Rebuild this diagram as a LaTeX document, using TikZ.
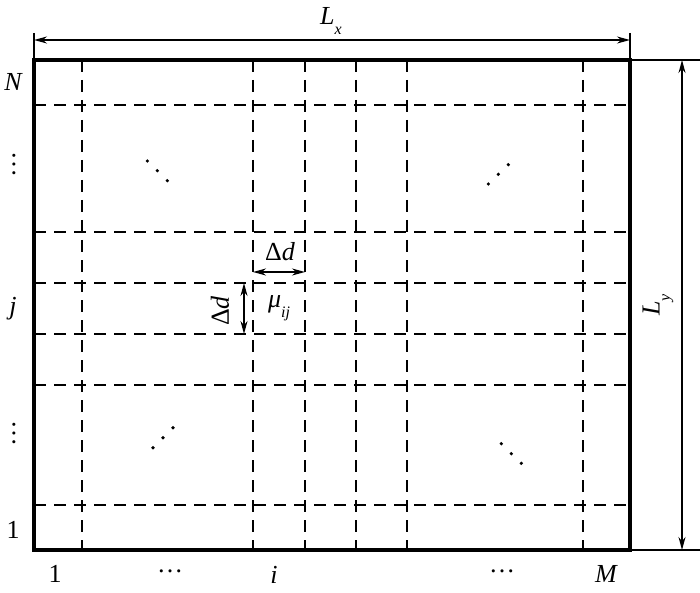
\documentclass[tikz,border=0pt]{standalone}
\usepackage{fontspec}
\setmainfont{Liberation Serif}
\usetikzlibrary{arrows.meta}
\newcommand\mysubs[1]{\raisebox{-0.4em}{\fontsize{16}{16}\selectfont\itshape #1}}
\begin{document}
\begin{tikzpicture}[x=1pt,y=-1pt,
  frame/.style={line width=4pt},
  gridline/.style={line width=1.1pt,dash pattern=on 12pt off 8pt},
  dim/.style={line width=1.5pt,{Stealth[length=13pt,width=7pt]}-{Stealth[length=13pt,width=7pt]}},
  ext/.style={line width=1.2pt},
  lab/.style={font=\fontsize{26}{28}\selectfont, inner sep=0pt},
  dotc/.style={fill=black, circle, inner sep=0pt, minimum size=3.6pt}]
\useasboundingbox (0,0) rectangle (700,593);
\coordinate (tl) at (34,60);
\coordinate (br) at (630,550);
% grid
\foreach \x in {82,253,305,356,407,583} \draw[gridline] (\x,60) -- (\x,550);
\foreach \y in {105,232,283,334,385,505} \draw[gridline] (34,\y) -- (630,\y);
\draw[frame] (tl) rectangle (br);
% Lx dimension
\coordinate (lxt1) at (34,33);
\coordinate (lxt2) at (630,33);
\coordinate (lxb1) at (34,60);
\coordinate (lxb2) at (630,60);
\draw[ext] (lxt1) -- (lxb1);
\draw[ext] (lxt2) -- (lxb2);
\coordinate (lxa) at (34,40);
\coordinate (lxb) at (630,40);
\draw[dim] (lxa) -- (lxb);
\node[lab] (Lx) at (331,21) {\itshape L\mysubs{x}};
% Ly dimension
\coordinate (lye1) at (700,60);
\coordinate (lye2) at (700,550);
\draw[ext] (lxb2) -- (lye1);
\draw[ext] (br) -- (lye2);
\coordinate (lya) at (682,60);
\coordinate (lyb) at (682,550);
\draw[dim] (lya) -- (lyb);
\node[lab, rotate=90] (Ly) at (658,305) {\itshape L\mysubs{y}};
% cell dimension
\coordinate (dha) at (253,272);
\coordinate (dhb) at (305,272);
\draw[dim] (dha) -- (dhb);
\node[lab] (dh) at (280,252) {Δ\textit{d}};
\coordinate (dva) at (244,283);
\coordinate (dvb) at (244,334);
\draw[dim] (dva) -- (dvb);
\node[lab, rotate=90] (dv) at (220,311) {Δ\textit{d}};
\node[lab] (mu) at (279,308) {\itshape μ\mysubs{ij}};
% left labels
\node[lab] (N) at (13,82) {\itshape N};
\node[lab, rotate=90, anchor=center] (vd1) at (15,165) {\smash{…}};
\node[lab] (jl) at (13,309) {\itshape j};
\node[lab, rotate=90, anchor=center] (vd2) at (15,433) {\smash{…}};
\node[lab] (one) at (13,530) {1};
% bottom labels
\node[lab] (b1) at (55,574) {1};
\node[lab] (bd1) at (170,574) {\raisebox{0.25em}{…}};
\node[lab] (bi) at (274,575) {\itshape i};
\node[lab] (bd2) at (502,574) {\raisebox{0.25em}{…}};
\node[lab] (bM) at (606,574) {\itshape M};
% diagonal dots
\foreach \p [count=\k] in {(147.3,161),(157.3,170.7),(167.3,180.7),
  (488.3,184),(498.3,174.3),(508.3,164.7),
  (153,447.7),(163,437.7),(173,427.7),
  (501.3,443.7),(511.3,453.7),(521.3,463.3)}
  \node[dotc] (dd\k) at \p {};
\end{tikzpicture}
\end{document}
